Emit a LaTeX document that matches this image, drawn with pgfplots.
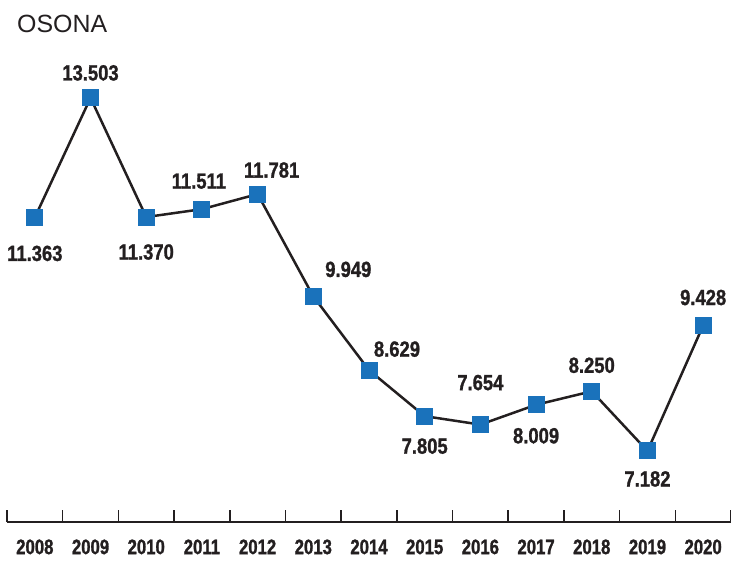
\documentclass[border=0pt]{standalone}
\usepackage{fontspec}
\usepackage{pgfplots}
\usepackage{pgfplotstable}
\pgfplotsset{compat=1.18}
\setmainfont{Liberation Sans}
\newfontfamily\condb{Liberation Sans}[FakeStretch=0.84, FakeBold=1.2]
\newfontfamily\condy{Liberation Sans}[FakeStretch=0.8, FakeBold=1.2]
\definecolor{mblue}{RGB}{26,114,187}
\definecolor{dark}{RGB}{35,31,32}
\pgfplotstableread{
x y lab dx dy
0 11.363 11.363 0 -36
1 13.503 13.503 0 25
2 11.370 11.370 0 -35
3 11.511 11.511 -3 28
4 11.781 11.781 14 24
5 9.949 9.949 35 27
6 8.629 8.629 28 21
7 7.805 7.805 0 -30
8 7.654 7.654 0 42
9 8.009 8.009 0 -31
10 8.250 8.250 0 26
11 7.182 7.182 0 -28
12 9.428 9.428 0 28
}\data
\begin{document}
\begin{tikzpicture}
\begin{axis}[
  scale only axis, width=724bp, height=522bp,
  xmin=-0.5, xmax=12.5, ymin=5.91, ymax=15.256,
  axis x line=bottom, axis y line=none,
  axis line style={-, line width=2bp, color=dark},
  xtick={0,...,12},
  xticklabels={2008,2009,2010,2011,2012,2013,2014,2015,2016,2017,2018,2019,2020},
  major tick length=0pt,
  minor xtick={-0.5,0.5,...,12.5},
  minor tick length=12bp,
  xtick align=inside,
  minor tick style={line width=1.6bp, color=dark},
  xticklabel style={font=\condy\bfseries\fontsize{21}{25}\selectfont, text=dark, yshift=-14bp},
  clip=false,
]
\addplot[line width=2.5bp, color=dark, mark=square*, mark size=7.6bp,
  mark options={fill=mblue, draw=mblue, line width=1.8bp},
  nodes near coords, point meta=explicit symbolic,
  visualization depends on={\thisrow{dx}\as\dx},
  visualization depends on={\thisrow{dy}\as\dy},
  every node near coord/.append style={anchor=center, inner sep=0pt,
    xshift=\dx bp, yshift=\dy bp, text=dark,
    font=\condb\bfseries\fontsize{22}{26}\selectfont}]
  table[x=x, y=y, meta=lab] {\data};
\coordinate (bl) at (rel axis cs:0,0);
\end{axis}
\node[anchor=base west, inner sep=0pt, text=dark, font=\fontsize{25}{30}\selectfont] at ([xshift=10bp,yshift=489bp]bl) {OSONA};
\pgfresetboundingbox
\path[use as bounding box] ([xshift=-7bp,yshift=-44bp]bl) rectangle ([xshift=724bp,yshift=522bp]bl);
\end{tikzpicture}
\end{document}
